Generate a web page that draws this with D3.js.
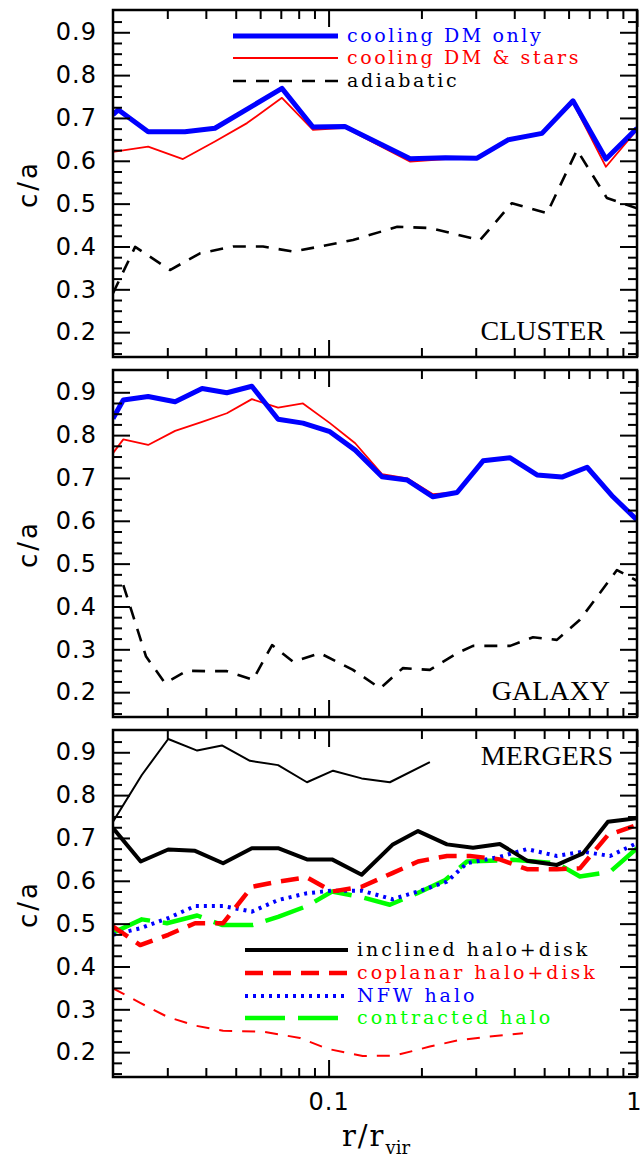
<!DOCTYPE html>
<html>
<head>
<meta charset="utf-8">
<script src="https://cdn.jsdelivr.net/npm/d3@7"></script>
<style>
body { margin: 0; background: #fff; }
</style>
</head>
<body>
<svg id="chart"></svg>
<script>
// CLUSTER
var rClusterDM = [0.0200, 0.0208, 0.0260, 0.0342, 0.0428, 0.0706, 0.0890, 0.113, 0.184, 0.239, 0.303, 0.382, 0.492, 0.620, 0.793, 1.0];
var caClusterDM = [0.708, 0.719, 0.668, 0.668, 0.676, 0.769, 0.679, 0.680, 0.605, 0.607, 0.606, 0.649, 0.664, 0.740, 0.604, 0.676];
var rClusterStars = [0.0200, 0.0260, 0.0337, 0.0428, 0.0544, 0.0706, 0.0890, 0.113, 0.184, 0.239, 0.303, 0.382, 0.492, 0.620, 0.793, 1.0];
var caClusterStars = [0.621, 0.633, 0.604, 0.645, 0.688, 0.747, 0.672, 0.677, 0.598, 0.604, 0.604, 0.647, 0.664, 0.736, 0.586, 0.672];
var rClusterAd = [0.0200, 0.0236, 0.0306, 0.0383, 0.0490, 0.0613, 0.0767, 0.0938, 0.120, 0.167, 0.213, 0.310, 0.393, 0.511, 0.639, 0.799, 1.0];
var caClusterAd = [0.291, 0.399, 0.345, 0.384, 0.400, 0.400, 0.388, 0.400, 0.415, 0.446, 0.443, 0.415, 0.501, 0.478, 0.625, 0.513, 0.489];

// GALAXY
var rGalaxyDM = [0.0200, 0.0216, 0.0260, 0.0318, 0.0389, 0.0468, 0.0564, 0.0686, 0.0826, 0.101, 0.122, 0.149, 0.180, 0.218, 0.261, 0.317, 0.388, 0.474, 0.571, 0.689, 0.836, 1.0];
var caGalaxyDM = [0.839, 0.882, 0.890, 0.878, 0.909, 0.899, 0.914, 0.837, 0.828, 0.808, 0.765, 0.703, 0.695, 0.656, 0.666, 0.740, 0.747, 0.707, 0.702, 0.725, 0.656, 0.602];
var rGalaxyStars = [0.0200, 0.0216, 0.0260, 0.0318, 0.0389, 0.0468, 0.0564, 0.0686, 0.0826, 0.101, 0.122, 0.149, 0.180, 0.218, 0.261];
var caGalaxyStars = [0.758, 0.790, 0.777, 0.810, 0.831, 0.851, 0.884, 0.864, 0.874, 0.828, 0.781, 0.709, 0.699, 0.662, 0.666];
var rGalaxyAd = [0.0216, 0.0256, 0.0295, 0.0348, 0.0403, 0.0468, 0.0569, 0.0656, 0.0767, 0.0938, 0.120, 0.147, 0.174, 0.213, 0.261, 0.294, 0.388, 0.460, 0.550, 0.653, 0.861, 1.0];
var caGalaxyAd = [0.450, 0.283, 0.221, 0.250, 0.249, 0.249, 0.229, 0.310, 0.271, 0.291, 0.252, 0.209, 0.256, 0.252, 0.291, 0.308, 0.308, 0.328, 0.322, 0.369, 0.485, 0.460];

// MERGERS
var rInclinedThin = [0.0200, 0.0248, 0.0302, 0.0375, 0.0451, 0.0556, 0.0686, 0.0851, 0.1034, 0.128, 0.158, 0.213];
var caInclinedThin = [0.738, 0.847, 0.931, 0.904, 0.916, 0.880, 0.870, 0.830, 0.857, 0.839, 0.830, 0.877];
var rInclined = [0.0200, 0.0246, 0.0302, 0.0369, 0.0455, 0.0564, 0.0686, 0.0851, 0.1026, 0.128, 0.161, 0.195, 0.242, 0.294, 0.359, 0.440, 0.550, 0.668, 0.805, 1.0];
var caInclined = [0.723, 0.645, 0.673, 0.670, 0.641, 0.676, 0.676, 0.650, 0.650, 0.614, 0.684, 0.716, 0.685, 0.677, 0.686, 0.647, 0.637, 0.664, 0.738, 0.746];
var rCoplanar = [0.0200, 0.0245, 0.0302, 0.0369, 0.0455, 0.0564, 0.0686, 0.0851, 0.1026, 0.128, 0.161, 0.195, 0.242, 0.287, 0.359, 0.440, 0.550, 0.653, 0.805, 1.0];
var caCoplanar = [0.493, 0.450, 0.474, 0.501, 0.501, 0.586, 0.598, 0.608, 0.575, 0.586, 0.618, 0.645, 0.658, 0.658, 0.650, 0.627, 0.627, 0.629, 0.707, 0.730];
var rCoplanarThin = [0.0200, 0.0245, 0.0299, 0.0369, 0.0455, 0.0613, 0.0808, 0.0989, 0.129, 0.164, 0.213, 0.261, 0.326, 0.427];
var caCoplanarThin = [0.349, 0.315, 0.283, 0.262, 0.250, 0.248, 0.233, 0.208, 0.191, 0.192, 0.213, 0.227, 0.236, 0.244];
var rNFW = [0.0200, 0.0245, 0.0302, 0.0369, 0.0455, 0.0564, 0.0686, 0.0851, 0.1026, 0.128, 0.161, 0.195, 0.242, 0.281, 0.359, 0.440, 0.550, 0.668, 0.818, 1.0];
var caNFW = [0.474, 0.489, 0.513, 0.541, 0.541, 0.528, 0.555, 0.571, 0.577, 0.577, 0.557, 0.575, 0.598, 0.641, 0.656, 0.674, 0.658, 0.668, 0.658, 0.688];
var rContracted = [0.0200, 0.0248, 0.0299, 0.0375, 0.0451, 0.0569, 0.0686, 0.0851, 0.1026, 0.128, 0.158, 0.194, 0.239, 0.281, 0.396, 0.550, 0.653, 0.818, 1.0];
var caContracted = [0.479, 0.510, 0.501, 0.519, 0.497, 0.497, 0.516, 0.541, 0.575, 0.562, 0.544, 0.571, 0.602, 0.645, 0.649, 0.641, 0.610, 0.621, 0.676];

// ticks
var xMajorTicks = [0.1, 1];
var xMinorTicks = [0.03, 0.04, 0.05, 0.06, 0.07, 0.08, 0.09, 0.2, 0.3, 0.4, 0.5, 0.6, 0.7, 0.8, 0.9];
var yMajorTicks = [0.2, 0.3, 0.4, 0.5, 0.6, 0.7, 0.8, 0.9];
var yMinorTicks = [0.15, 0.175, 0.225, 0.25, 0.275, 0.325, 0.35, 0.375, 0.425, 0.45, 0.475, 0.525, 0.55, 0.575,
    0.625, 0.65, 0.675, 0.725, 0.75, 0.775, 0.825, 0.85, 0.875, 0.925];

var panelNames = ["CLUSTER", "GALAXY", "MERGERS"];
var legendCluster = ["cooling DM only", "cooling DM & stars", "adiabatic"];
var legendMergers = ["inclined halo+disk", "coplanar halo+disk", "NFW halo", "contracted halo"];

function pairs(r, ca) { return r.map((d, i) => [d, ca[i]]); }

var blueThick = { stroke: "#0000ff", width: 5, dash: null };
var redThin = { stroke: "#ff0000", width: 1.8, dash: null };
var blackDash = { stroke: "#000", width: 2.6, dash: "13,10" };

var panels = [
    { series: [
        Object.assign({ data: pairs(rClusterAd, caClusterAd) }, blackDash),
        Object.assign({ data: pairs(rClusterStars, caClusterStars) }, redThin),
        Object.assign({ data: pairs(rClusterDM, caClusterDM) }, blueThick)
    ] },
    { series: [
        Object.assign({ data: pairs(rGalaxyAd, caGalaxyAd) }, blackDash),
        Object.assign({ data: pairs(rGalaxyStars, caGalaxyStars) }, redThin),
        Object.assign({ data: pairs(rGalaxyDM, caGalaxyDM) }, blueThick)
    ] },
    { series: [
        { data: pairs(rInclinedThin, caInclinedThin), stroke: "#000", width: 2, dash: null },
        { data: pairs(rCoplanarThin, caCoplanarThin), stroke: "#ff0000", width: 2, dash: "13,10" },
        { data: pairs(rContracted, caContracted), stroke: "#00ff00", width: 4.5, dash: "40,13" },
        { data: pairs(rNFW, caNFW), stroke: "#0000ff", width: 4, dash: "3,5" },
        { data: pairs(rCoplanar, caCoplanar), stroke: "#ff0000", width: 4.5, dash: "18,10" },
        { data: pairs(rInclined, caInclined), stroke: "#000", width: 4, dash: null }
    ] }
];

var margin = { top: 10, left: 113 },
    width = 642, height = 1158,
    plotW = 637 - 113,
    panelH = 347, panelGap = 13;

var x = d3.scaleLog().domain([0.02, 1]).range([0, plotW]);
var y = d3.scaleLinear().domain([0.142, 0.952]).range([panelH, 0]);

var svg = d3.select("#chart")
    .attr("width", width)
    .attr("height", height)
    .style("background", "#fff");

svg.append("clipPath").attr("id", "clip")
    .append("rect").attr("width", plotW).attr("height", panelH);

var line = d3.line().x(d => x(d[0])).y(d => y(d[1]));

function tidy(g) {
    g.select(".domain").remove();
    g.selectAll(".tick line").attr("stroke", "#000").attr("stroke-width", 2);
    g.attr("font-family", "DejaVu Sans").attr("font-size", 24).attr("fill", "#000");
    g.selectAll(".tick text").attr("fill", "#000").attr("letter-spacing", 1);
}

panels.forEach(function (p, i) {
    var top = margin.top + i * (panelH + panelGap);
    var g = svg.append("g").attr("transform", "translate(" + margin.left + "," + top + ")");

    // lines
    var lines = g.append("g").attr("clip-path", "url(#clip)");
    p.series.forEach(function (s) {
        lines.append("path")
            .datum(s.data)
            .attr("d", line)
            .attr("fill", "none")
            .attr("stroke", s.stroke)
            .attr("stroke-width", s.width)
            .attr("stroke-dasharray", s.dash)
            .attr("stroke-linejoin", "round");
    });

    // ticks on all four sides
    g.append("g").call(d3.axisLeft(y).tickValues(yMajorTicks).tickSizeInner(-17).tickSizeOuter(0)
        .tickPadding(16).tickFormat(d3.format(".1f"))).call(tidy);
    g.append("g").call(d3.axisLeft(y).tickValues(yMinorTicks).tickSizeInner(-9).tickSizeOuter(0)
        .tickFormat("")).call(tidy);
    g.append("g").attr("transform", "translate(" + plotW + ",0)")
        .call(d3.axisRight(y).tickValues(yMajorTicks).tickSizeInner(-17).tickSizeOuter(0).tickFormat("")).call(tidy);
    g.append("g").attr("transform", "translate(" + plotW + ",0)")
        .call(d3.axisRight(y).tickValues(yMinorTicks).tickSizeInner(-9).tickSizeOuter(0).tickFormat("")).call(tidy);
    g.append("g")
        .call(d3.axisTop(x).tickValues(xMajorTicks).tickSizeInner(-17).tickSizeOuter(0).tickFormat("")).call(tidy);
    g.append("g")
        .call(d3.axisTop(x).tickValues(xMinorTicks).tickSizeInner(-9).tickSizeOuter(0).tickFormat("")).call(tidy);
    var xb = g.append("g").attr("transform", "translate(0," + panelH + ")")
        .call(d3.axisBottom(x).tickValues(xMajorTicks).tickSizeInner(-17).tickSizeOuter(0).tickPadding(16)
            .tickFormat(i == 2 ? (d => d == 1 ? "1" : String(d)) : "")).call(tidy);
    // keep the "1" inside the picture
    xb.selectAll(".tick text").filter(d => d == 1).attr("text-anchor", "end").attr("dx", 5);
    g.append("g").attr("transform", "translate(0," + panelH + ")")
        .call(d3.axisBottom(x).tickValues(xMinorTicks).tickSizeInner(-9).tickSizeOuter(0).tickFormat("")).call(tidy);

    g.append("rect")
        .attr("width", plotW).attr("height", panelH)
        .attr("fill", "none").attr("stroke", "#000").attr("stroke-width", 2.5);

    // y label
    svg.append("text")
        .attr("transform", "translate(37," + (top + 174) + ") rotate(-90)")
        .attr("text-anchor", "middle")
        .attr("font-family", "DejaVu Sans").attr("font-size", 26).attr("letter-spacing", 3)
        .text("c/a");

    // panel name
    g.append("text")
        .attr("x", i == 0 ? 492 : (i == 1 ? 497 : 500))
        .attr("y", i == 2 ? 35 : 330)
        .attr("text-anchor", "end")
        .attr("font-family", "Liberation Serif").attr("font-size", 28)
        .text(panelNames[i]);
});

// legends
var leg1 = svg.append("g").attr("transform", "translate(" + margin.left + "," + margin.top + ")");
var leg1Style = [blueThick, redThin, blackDash];
var leg1Colors = ["#0000ff", "#ff0000", "#000"];
var leg1Y = [26, 48, 71];
legendCluster.forEach(function (t, k) {
    leg1.append("line").attr("x1", 120).attr("x2", 225).attr("y1", leg1Y[k]).attr("y2", leg1Y[k])
        .attr("stroke", leg1Style[k].stroke).attr("stroke-width", leg1Style[k].width)
        .attr("stroke-dasharray", leg1Style[k].dash);
    leg1.append("text").attr("x", 234).attr("y", leg1Y[k]).attr("dy", "0.3em")
        .attr("font-family", "DejaVu Serif").attr("font-size", 19).attr("letter-spacing", 2.6)
        .attr("fill", leg1Colors[k]).text(t);
});

var leg3 = svg.append("g").attr("transform", "translate(" + margin.left + "," + (margin.top + 2 * (panelH + panelGap)) + ")");
var leg3Style = [panels[2].series[5], panels[2].series[4], panels[2].series[3], panels[2].series[2]];
var leg3Colors = ["#000", "#ff0000", "#0000ff", "#00ff00"];
var leg3Y = [220, 243, 266, 288];
legendMergers.forEach(function (t, k) {
    leg3.append("line").attr("x1", 132).attr("x2", 235).attr("y1", leg3Y[k]).attr("y2", leg3Y[k])
        .attr("stroke", leg3Style[k].stroke).attr("stroke-width", leg3Style[k].width)
        .attr("stroke-dasharray", leg3Style[k].dash);
    leg3.append("text").attr("x", 244).attr("y", leg3Y[k]).attr("dy", "0.3em")
        .attr("font-family", "DejaVu Serif").attr("font-size", 19).attr("letter-spacing", 3)
        .attr("fill", leg3Colors[k]).text(t);
});

// x label
var xl = svg.append("text")
    .attr("x", 376).attr("y", 1146)
    .attr("text-anchor", "middle")
    .attr("font-family", "DejaVu Serif").attr("font-size", 29).attr("letter-spacing", 2);
xl.append("tspan").text("r/r");
xl.append("tspan").attr("dy", 8).attr("font-size", 18).attr("letter-spacing", 0).text("vir");
</script>
</body>
</html>
